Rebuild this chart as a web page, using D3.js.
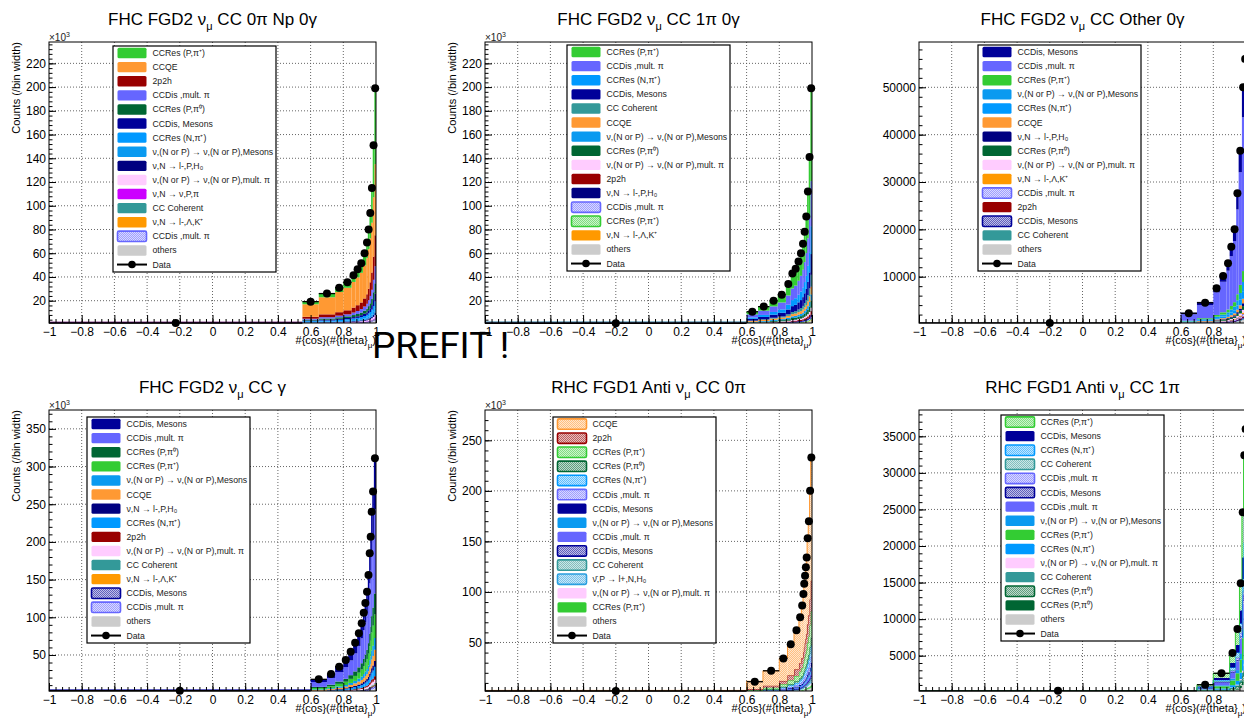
<!DOCTYPE html>
<html lang="en">
<head>
  <meta charset="UTF-8" />
  <title>Prefit cos(theta) distributions</title>
  <script src="https://d3js.org/d3.v7.min.js"></script>
  <style>
    body { margin: 0; background: #fff; }
    svg { display: block; font-family: "Liberation Sans", Arial, sans-serif; }
  </style>
</head>
<body>
  <svg width="1244" height="718"></svg>

  <script>
    // ---- labels and colours of the MC components ----
    const compLabel = {
      resPpip: "CCRes (P,π⁺)", qe: "CCQE", npnh: "2p2h", disMult: "CCDis ,mult. π",
      resPpi0: "CCRes (P,π⁰)", disMes: "CCDis, Mesons", resNpip: "CCRes (N,π⁺)",
      ncMes: "ν,(N or P) → ν,(N or P),Mesons", lPH0: "ν,N → l-,P,H₀",
      ncMult: "ν,(N or P) → ν,(N or P),mult. π", nuPpi: "ν,N → ν,P,π",
      coh: "CC Coherent", kaon: "ν,N → l-,Λ,K⁺", others: "others",
      nubar: "ν\u0304,P → l+,N,H₀"
    };
    const compColor = {
      resPpip: "#33cc33", qe: "#ff9933", npnh: "#990000", disMult: "#6666ff",
      resPpi0: "#006633", disMes: "#000099", resNpip: "#0099ff", ncMes: "#0a9af0",
      lPH0: "#000080", ncMult: "#ffccff", nuPpi: "#cc00ff", coh: "#339999",
      kaon: "#ff9900", others: "#cccccc", nubar: "#2a9fe0"
    };

    // ---- panel 1: FHC FGD2 CC 0pi Np 0gamma (x10^3) ----
    const p1Edges = [-1, 0.55, 0.65, 0.75, 0.8, 0.85, 0.875, 0.9, 0.92, 0.94, 0.95, 0.96, 0.97, 0.98, 0.99, 1];
    const p1Data = [1.2, 19.2, 26, 31, 35.5, 41.5, 46.5, 51.5, 60, 69, 80, 94, 115, 151, 199];
    const p1Keys = ["resPpip", "qe", "npnh", "disMult", "resPpi0", "disMes", "resNpip", "ncMes",
                    "lPH0", "ncMult", "nuPpi", "coh", "kaon", "disMult_h", "others"];
    const p1Stack = [
      [0.05, 2.6, 3.4, 4.0, 4.6, 5.6, 6.6, 7.8, 9.8, 12.2, 15.5, 20.5, 29, 44, 66],
      [0.1, 10.6, 14.4, 17.0, 19.0, 21.6, 23.5, 25.0, 27.8, 30.5, 33.5, 37.0, 42.0, 50.0, 60.0],
      [0.05, 1.6, 2.4, 2.9, 3.4, 4.2, 4.9, 5.6, 6.8, 8.0, 9.6, 11.5, 14.5, 19.5, 26.0],
      [0.05, 0.8, 1.1, 1.4, 1.7, 2.1, 2.5, 2.9, 3.5, 4.2, 5.0, 6.2, 7.8, 10.5, 14.5],
      [0.03, 0.7, 1.0, 1.2, 1.4, 1.7, 1.9, 2.2, 2.6, 3.0, 3.5, 4.2, 5.1, 6.6, 8.6],
      [0.03, 0.5, 0.7, 0.9, 1.0, 1.2, 1.4, 1.6, 1.9, 2.2, 2.6, 3.1, 3.8, 5.0, 6.6],
      [0.03, 0.7, 0.9, 1.1, 1.2, 1.4, 1.6, 1.8, 2.1, 2.4, 2.8, 3.3, 3.9, 4.9, 6.2],
      [0.02, 0.4, 0.5, 0.6, 0.7, 0.8, 0.9, 1.0, 1.1, 1.3, 1.5, 1.7, 2.0, 2.5, 3.1],
      [0.02, 0.3, 0.4, 0.4, 0.5, 0.6, 0.6, 0.7, 0.8, 0.9, 1.0, 1.2, 1.4, 1.8, 2.2],
      [0.02, 0.3, 0.3, 0.4, 0.4, 0.5, 0.5, 0.6, 0.7, 0.8, 0.9, 1.0, 1.2, 1.5, 1.9],
      [1.8, 0.2, 0.2, 0.2, 0.3, 0.3, 0.3, 0.3, 0.4, 0.4, 0.5, 0.5, 0.6, 0.8, 1.0],
      [0.01, 0.1, 0.1, 0.1, 0.1, 0.1, 0.2, 0.2, 0.2, 0.2, 0.3, 0.3, 0.4, 0.5, 0.6],
      [0.01, 0.1, 0.1, 0.1, 0.1, 0.1, 0.1, 0.1, 0.2, 0.2, 0.2, 0.2, 0.3, 0.3, 0.4],
      [0.01, 0.1, 0.1, 0.2, 0.2, 0.2, 0.2, 0.3, 0.3, 0.3, 0.4, 0.4, 0.5, 0.6, 0.8],
      [0.4, 0.6, 0.7, 0.8, 0.9, 1.0, 1.1, 1.2, 1.3, 1.5, 1.7, 1.9, 2.2, 2.6, 3.2]
    ];

    // ---- panel 2: FHC FGD2 CC 1pi 0gamma (x10^3) ----
    const p2Edges = [-1, 0.6, 0.67, 0.74, 0.79, 0.84, 0.87, 0.89, 0.91, 0.925, 0.94, 0.95, 0.96, 0.97, 0.98, 0.99, 1];
    const p2Data = [1.0, 10.7, 15, 20, 25, 34, 43, 47, 53, 60, 68, 78, 91, 112, 141, 199];
    const p2Keys = ["resPpip", "disMult", "resNpip", "disMes", "coh", "qe", "ncMes", "resPpi0",
                    "ncMult", "npnh", "lPH0", "disMult_h", "resPpip_h", "kaon", "others"];
    const p2Stack = [
      [0.05, 2.4, 3.4, 4.6, 5.9, 9.6, 12.7, 14.3, 16, 19, 22, 25.5, 31, 39, 50, 78],
      [0.05, 2.6, 3.6, 4.7, 5.8, 7.8, 9.8, 10.6, 11.8, 13.2, 14.8, 16.8, 19.2, 23.2, 28.5, 38.0],
      [0.03, 1.2, 1.7, 2.3, 2.9, 4.0, 5.1, 5.6, 6.4, 7.3, 8.3, 9.5, 11.0, 13.6, 17.0, 23.5],
      [0.03, 1.5, 2.0, 2.6, 3.1, 4.1, 5.0, 5.4, 6.0, 6.7, 7.4, 8.3, 9.4, 11.2, 13.5, 17.5],
      [0.01, 0.3, 0.5, 0.7, 0.9, 1.3, 1.7, 1.9, 2.2, 2.6, 3.0, 3.5, 4.1, 5.2, 6.6, 10.0],
      [0.02, 0.7, 0.9, 1.1, 1.3, 1.6, 1.9, 2.0, 2.2, 2.4, 2.7, 3.0, 3.4, 4.0, 4.8, 6.5],
      [0.01, 0.5, 0.6, 0.8, 0.9, 1.2, 1.4, 1.5, 1.7, 1.8, 2.0, 2.3, 2.6, 3.1, 3.8, 5.0],
      [0.01, 0.4, 0.6, 0.8, 1.0, 1.3, 1.6, 1.7, 1.9, 2.1, 2.4, 2.7, 3.1, 3.7, 4.6, 6.2],
      [0.01, 0.2, 0.3, 0.4, 0.5, 0.6, 0.7, 0.8, 0.9, 1.0, 1.1, 1.3, 1.5, 1.8, 2.2, 2.9],
      [0.01, 0.2, 0.3, 0.4, 0.5, 0.6, 0.7, 0.8, 0.9, 1.0, 1.1, 1.3, 1.5, 1.8, 2.2, 3.0],
      [0.01, 0.2, 0.2, 0.3, 0.3, 0.4, 0.5, 0.5, 0.6, 0.6, 0.7, 0.8, 0.9, 1.1, 1.3, 1.8],
      [0.01, 0.1, 0.2, 0.2, 0.3, 0.3, 0.4, 0.4, 0.5, 0.5, 0.6, 0.7, 0.8, 0.9, 1.1, 1.5],
      [0.01, 0.1, 0.1, 0.2, 0.2, 0.3, 0.3, 0.3, 0.4, 0.4, 0.5, 0.5, 0.6, 0.7, 0.9, 1.2],
      [0, 0.1, 0.1, 0.1, 0.1, 0.1, 0.2, 0.2, 0.2, 0.2, 0.2, 0.3, 0.3, 0.3, 0.4, 0.5],
      [1.9, 0.4, 0.5, 0.6, 0.7, 0.8, 1.0, 1.0, 1.1, 1.2, 1.3, 1.5, 1.7, 2.0, 2.4, 3.2]
    ];

    // ---- panel 3: FHC FGD2 CC Other 0gamma ----
    const p3Edges = [-1, 0.6, 0.7, 0.8, 0.84, 0.88, 0.9, 0.92, 0.94, 0.955, 0.975, 0.99, 1];
    const p3Data = [230, 2270, 4500, 7550, 10150, 12830, 16340, 20000, 27600, 36600, 50000, 56000];
    const p3Keys = ["disMes", "disMult", "resPpip", "ncMes", "resNpip", "qe", "lPH0", "resPpi0",
                    "ncMult", "kaon", "disMult_h", "npnh", "disMes_h", "coh", "others"];
    const p3Stack = [
      [20, 350, 700, 1150, 1500, 1850, 2300, 2750, 3700, 4800, 6400, 7100],
      [120, 1350, 2750, 4750, 6450, 8200, 10500, 12900, 17900, 23800, 32500, 36500],
      [15, 120, 220, 360, 480, 600, 760, 930, 1280, 1700, 2300, 2550],
      [10, 110, 200, 320, 420, 520, 650, 790, 1080, 1420, 1950, 2150],
      [10, 90, 170, 270, 350, 430, 540, 650, 900, 1180, 1600, 1800],
      [8, 60, 110, 170, 220, 270, 330, 400, 540, 700, 950, 1050],
      [5, 40, 70, 110, 140, 170, 210, 250, 340, 440, 600, 660],
      [5, 50, 90, 140, 180, 220, 270, 330, 450, 590, 800, 880],
      [5, 40, 70, 100, 130, 160, 200, 240, 320, 420, 570, 630],
      [3, 20, 40, 60, 80, 100, 120, 150, 200, 260, 350, 380],
      [5, 30, 50, 80, 100, 130, 160, 190, 260, 340, 460, 510],
      [3, 20, 30, 50, 60, 80, 100, 120, 160, 210, 280, 310],
      [3, 20, 30, 50, 60, 80, 100, 120, 160, 210, 280, 310],
      [2, 10, 20, 30, 40, 50, 60, 70, 100, 130, 170, 190],
      [30, 90, 130, 180, 220, 260, 320, 380, 510, 660, 880, 980]
    ];

    // ---- panel 4: FHC FGD2 CC gamma (x10^3) ----
    const p4Edges = [-1, 0.6, 0.7, 0.75, 0.8, 0.83, 0.86, 0.885, 0.905, 0.92, 0.93, 0.94, 0.95, 0.958, 0.965, 0.97, 0.977, 0.987, 1];
    const p4Data = [2.5, 17.7, 24.8, 34.5, 43.4, 54.4, 66.3, 78.8, 92, 106, 119, 134, 156, 185, 207, 240, 267, 311];
    const p4Keys = ["disMes", "disMult", "resPpi0", "resPpip", "ncMes", "qe", "lPH0", "resNpip",
                    "npnh", "ncMult", "coh", "kaon", "disMes_h", "disMult_h", "others"];
    const p4Stack = [
      [0.8, 3.9, 5.5, 7.6, 9.5, 12.0, 14.6, 17.3, 20.2, 23.3, 26.2, 29.5, 34.3, 40.7, 45.5, 52.8, 58.7, 68.4],
      [1.4, 6.4, 8.9, 12.4, 15.6, 19.6, 23.9, 28.4, 33.1, 38.2, 42.8, 48.2, 56.2, 66.6, 74.5, 86.4, 96.1, 112.0],
      [0.3, 1.6, 2.2, 3.1, 3.9, 4.9, 6.0, 7.1, 8.3, 9.5, 10.7, 12.1, 14.0, 16.7, 18.6, 21.6, 24.0, 28.0],
      [0.3, 1.8, 2.5, 3.5, 4.3, 5.4, 6.6, 7.9, 9.2, 10.6, 11.9, 13.4, 15.6, 18.5, 20.7, 24.0, 26.7, 31.1],
      [0.1, 0.9, 1.2, 1.7, 2.2, 2.7, 3.3, 3.9, 4.6, 5.3, 6.0, 6.7, 7.8, 9.3, 10.4, 12.0, 13.4, 15.6],
      [0.1, 1.0, 1.3, 1.8, 2.2, 2.8, 3.3, 3.9, 4.5, 5.2, 5.8, 6.5, 7.5, 8.9, 9.9, 11.5, 12.8, 14.9],
      [0.05, 0.4, 0.6, 0.9, 1.1, 1.4, 1.7, 2.0, 2.3, 2.7, 3.0, 3.4, 3.9, 4.6, 5.2, 6.0, 6.7, 7.8],
      [0.1, 0.7, 1.0, 1.4, 1.7, 2.2, 2.7, 3.2, 3.7, 4.2, 4.8, 5.4, 6.2, 7.4, 8.3, 9.6, 10.7, 12.4],
      [0.05, 0.3, 0.4, 0.5, 0.7, 0.8, 1.0, 1.2, 1.4, 1.6, 1.8, 2.0, 2.3, 2.8, 3.1, 3.6, 4.0, 4.7],
      [0.05, 0.3, 0.4, 0.5, 0.6, 0.8, 1.0, 1.2, 1.4, 1.6, 1.8, 2.0, 2.3, 2.8, 3.1, 3.6, 4.0, 4.6],
      [0.02, 0.1, 0.1, 0.2, 0.2, 0.3, 0.3, 0.4, 0.5, 0.5, 0.6, 0.7, 0.8, 0.9, 1.0, 1.2, 1.3, 1.6],
      [0.02, 0.1, 0.1, 0.2, 0.2, 0.3, 0.3, 0.4, 0.4, 0.5, 0.6, 0.6, 0.7, 0.9, 1.0, 1.2, 1.3, 1.5],
      [0.05, 0.1, 0.2, 0.3, 0.3, 0.4, 0.5, 0.6, 0.7, 0.8, 1.0, 1.1, 1.2, 1.5, 1.7, 1.9, 2.1, 2.5],
      [0.05, 0.1, 0.2, 0.2, 0.3, 0.4, 0.5, 0.6, 0.6, 0.7, 0.8, 0.9, 1.1, 1.3, 1.4, 1.7, 1.9, 2.2],
      [1.0, 0.3, 0.4, 0.5, 0.7, 0.8, 1.0, 1.2, 1.4, 1.6, 1.8, 2.0, 2.3, 2.8, 3.1, 3.6, 4.0, 4.7]
    ];

    // ---- panel 5: RHC FGD1 anti-numu CC 0pi (x10^3) ----
    const p5Edges = [-1, 0.6, 0.7, 0.8, 0.85, 0.89, 0.92, 0.935, 0.945, 0.95, 0.955, 0.96, 0.965, 0.97, 0.977, 0.985, 0.992, 1];
    const p5Data = [2, 11.2, 22, 34.2, 48.3, 62, 75, 86.7, 98, 108, 116, 124.5, 134, 153, 170, 200, 233];
    const p5Keys = ["qe_h", "npnh_h", "resPpip_h", "resPpi0_h", "resNpip_h", "disMult_h", "disMes", "ncMes",
                    "disMult", "disMes_h", "coh_h", "nubar_h", "ncMult", "resPpip", "others"];
    const p5Stack = [
      [0.8, 7.6, 14.8, 22.5, 31.0, 38.8, 45.6, 51.8, 57.6, 62.8, 66.8, 70.8, 75.0, 84.0, 91.8, 104.0, 122.0],
      [0.2, 1.0, 2.0, 3.3, 4.9, 6.6, 8.3, 9.8, 11.3, 12.6, 13.7, 14.9, 16.2, 18.8, 21.2, 25.5, 30.5],
      [0.2, 0.7, 1.5, 2.5, 3.8, 5.2, 6.6, 8.0, 9.3, 10.5, 11.5, 12.5, 13.6, 15.9, 18.0, 21.6, 26.0],
      [0.05, 0.3, 0.5, 0.8, 1.2, 1.6, 2.0, 2.4, 2.8, 3.1, 3.4, 3.7, 4.0, 4.7, 5.3, 6.4, 7.7],
      [0.05, 0.4, 0.7, 1.1, 1.7, 2.3, 2.9, 3.4, 4.0, 4.5, 4.9, 5.3, 5.8, 6.8, 7.7, 9.2, 11.2],
      [0.05, 0.2, 0.3, 0.6, 0.8, 1.1, 1.4, 1.7, 2.0, 2.2, 2.4, 2.6, 2.9, 3.4, 3.9, 4.7, 5.8],
      [0.05, 0.2, 0.3, 0.6, 0.8, 1.0, 1.3, 1.5, 1.7, 1.9, 2.1, 2.3, 2.5, 2.9, 3.3, 4.0, 4.8],
      [0.02, 0.1, 0.2, 0.4, 0.5, 0.7, 0.9, 1.0, 1.2, 1.3, 1.5, 1.6, 1.8, 2.1, 2.4, 2.9, 3.5],
      [0.05, 0.2, 0.3, 0.5, 0.7, 0.9, 1.1, 1.3, 1.5, 1.7, 1.9, 2.0, 2.3, 2.7, 3.1, 3.8, 4.6],
      [0.02, 0.1, 0.1, 0.2, 0.3, 0.4, 0.5, 0.6, 0.7, 0.8, 0.9, 1.0, 1.1, 1.3, 1.5, 1.9, 2.3],
      [0.02, 0.1, 0.1, 0.2, 0.3, 0.4, 0.5, 0.6, 0.7, 0.8, 0.9, 1.0, 1.1, 1.3, 1.5, 1.9, 2.3],
      [0.02, 0.1, 0.2, 0.3, 0.5, 0.6, 0.8, 0.9, 1.1, 1.2, 1.3, 1.5, 1.6, 1.9, 2.2, 2.7, 3.4],
      [0.02, 0.1, 0.1, 0.2, 0.2, 0.3, 0.4, 0.4, 0.5, 0.5, 0.6, 0.6, 0.7, 0.8, 0.9, 1.0, 1.2],
      [0.02, 0.1, 0.2, 0.3, 0.4, 0.6, 0.7, 0.8, 1.0, 1.1, 1.2, 1.3, 1.4, 1.6, 1.8, 2.1, 2.4],
      [1.0, 0.4, 0.7, 1.0, 1.3, 1.6, 1.9, 2.2, 2.4, 2.7, 2.9, 3.1, 3.3, 3.7, 4.1, 4.7, 5.4]
    ];

    // ---- panel 6: RHC FGD1 anti-numu CC 1pi ----
    const p6Edges = [-1, 0.7, 0.8, 0.9, 0.935, 0.96, 0.975, 0.985, 0.995, 1];
    const p6Data = [190, 1030, 2590, 5370, 8650, 14900, 24600, 32400, 36000];
    const p6Keys = ["resPpip_h", "disMes", "resNpip_h", "coh_h", "disMult_h", "disMes_h", "disMult", "ncMes",
                    "resPpip", "resNpip", "ncMult", "coh", "resPpi0_h", "resPpi0", "others"];
    const p6Stack = [
      [20, 220, 620, 1320, 2150, 3700, 6100, 8050, 8950],
      [15, 120, 300, 640, 1030, 1780, 2950, 3890, 4320],
      [8, 70, 180, 370, 600, 1040, 1720, 2270, 2520],
      [2, 20, 50, 110, 170, 300, 490, 650, 720],
      [5, 30, 80, 160, 260, 450, 740, 970, 1080],
      [3, 20, 50, 110, 170, 300, 490, 650, 720],
      [30, 150, 360, 750, 1210, 2090, 3440, 4540, 5040],
      [8, 50, 130, 270, 430, 750, 1230, 1620, 1800],
      [15, 110, 300, 640, 1040, 1790, 2950, 3890, 4320],
      [10, 60, 160, 320, 520, 890, 1480, 1940, 2160],
      [3, 10, 30, 50, 90, 150, 250, 320, 360],
      [3, 20, 50, 110, 170, 300, 490, 650, 720],
      [5, 30, 80, 160, 260, 450, 740, 970, 1080],
      [3, 20, 50, 110, 170, 300, 490, 650, 720],
      [60, 100, 150, 220, 350, 600, 980, 1300, 1440]
    ];

    const titles = [
      ["FHC FGD2 ν", "μ", " CC 0π Np 0γ"],
      ["FHC FGD2 ν", "μ", " CC 1π 0γ"],
      ["FHC FGD2 ν", "μ", " CC Other 0γ"],
      ["FHC FGD2 ν", "μ", " CC γ"],
      ["RHC FGD1 Anti ν", "μ", " CC 0π"],
      ["RHC FGD1 Anti ν", "μ", " CC 1π"]
    ];
    const yRanges = [[1.2, 238], [1.2, 238], [220, 59570], [2.2, 375], [2, 280], [170, 38600]];
    const ySteps = [[20, 4], [20, 4], [10000, 2000], [50, 10], [50, 10], [5000, 1000]];
    const yThousands = [true, true, false, true, true, false];

    const panels = [
      { edges: p1Edges, data: p1Data, keys: p1Keys, stack: p1Stack },
      { edges: p2Edges, data: p2Data, keys: p2Keys, stack: p2Stack },
      { edges: p3Edges, data: p3Data, keys: p3Keys, stack: p3Stack },
      { edges: p4Edges, data: p4Data, keys: p4Keys, stack: p4Stack },
      { edges: p5Edges, data: p5Data, keys: p5Keys, stack: p5Stack },
      { edges: p6Edges, data: p6Data, keys: p6Keys, stack: p6Stack }
    ];

    // layout
    const colX = [49, 485, 919], rowY = [42, 410];
    const W = 327, H = 281;
    const legendPos = [[113, 46], [567, 45], [978, 45], [87, 417], [553, 417], [1001, 415]];
    const legendW = 163, legendH = 226, rowH = 14.1;

    const svg = d3.select("svg");
    const defs = svg.append("defs");

    // checker-like hatch fill, one per colour
    Object.keys(compColor).forEach(k => {
      const pat = defs.append("pattern").attr("id", "hatch-" + k)
        .attr("width", 2).attr("height", 2).attr("patternUnits", "userSpaceOnUse");
      pat.append("rect").attr("width", 2).attr("height", 2).attr("fill", "#fff");
      pat.append("rect").attr("width", 2).attr("height", 2).attr("fill", compColor[k]).attr("opacity", 0.25);
      pat.append("rect").attr("width", 1).attr("height", 1).attr("fill", compColor[k]).attr("opacity", 0.5);
      pat.append("rect").attr("x", 1).attr("y", 1).attr("width", 1).attr("height", 1).attr("fill", compColor[k]).attr("opacity", 0.5);
    });

    const baseKey = k => k.replace("_h", "");
    const isHatched = k => k.endsWith("_h");
    const fillFor = k => isHatched(k) ? `url(#hatch-${baseKey(k)})` : compColor[k];

    const xMajor = d3.range(-10, 11, 2).map(v => v / 10);
    const xMinor = d3.range(-50, 51, 2).map(v => v / 50);

    panels.forEach((p, i) => {
      const fx = colX[i % 3], fy = rowY[Math.floor(i / 3)];
      const g = svg.append("g").attr("transform", `translate(${fx},${fy})`);
      const x = d3.scaleLinear().domain([-1, 1]).range([0, W]);
      const y = d3.scaleLinear().domain(yRanges[i]).range([H, 0]);
      const [maj, mnr] = ySteps[i];
      const yMajor = d3.range(maj, yRanges[i][1], maj);
      const yMinor = d3.range(0, yRanges[i][1], mnr).filter(v => v >= yRanges[i][0]);

      // grid
      const grid = g.append("g").attr("stroke", "#555").attr("stroke-width", 0.9)
        .attr("stroke-dasharray", "1,2");
      grid.selectAll(".gx").data(xMajor.filter(v => v > -1 && v < 1)).join("line")
        .attr("x1", d => x(d)).attr("x2", d => x(d)).attr("y1", 0).attr("y2", H);
      grid.selectAll(".gy").data(yMajor).join("line")
        .attr("x1", 0).attr("x2", W).attr("y1", d => y(d)).attr("y2", d => y(d));

      // stacked MC, bottom component is the last legend entry
      const clipId = "clip" + i;
      defs.append("clipPath").attr("id", clipId).append("rect").attr("width", W).attr("height", H);
      const sg = g.append("g").attr("clip-path", `url(#${clipId})`);
      let base = p.data.map(() => 0);
      for (let s = p.keys.length - 1; s >= 0; s--) {
        const key = p.keys[s];
        const rows = p.stack[s].map((v, b) => ({ b, y0: base[b], y1: base[b] + v }));
        sg.append("g").selectAll("rect").data(rows).join("rect")
          .attr("x", d => x(p.edges[d.b]))
          .attr("width", d => x(p.edges[d.b + 1]) - x(p.edges[d.b]))
          .attr("y", d => y(d.y1))
          .attr("height", d => Math.max(0, y(d.y0) - y(d.y1)))
          .attr("fill", fillFor(key));
        if (isHatched(key)) {
          let path = "";
          rows.forEach((d, b) => {
            path += (b === 0 ? "M" : "L") + x(p.edges[b]) + "," + y(d.y1) + "L" + x(p.edges[b + 1]) + "," + y(d.y1);
          });
          sg.append("path").attr("d", path).attr("fill", "none")
            .attr("stroke", compColor[baseKey(key)]).attr("stroke-width", 1);
        }
        base = rows.map(d => d.y1);
      }

      // data: markers with bin-width bars
      const dg = g.append("g");
      dg.selectAll("line").data(p.data).join("line")
        .attr("x1", (d, b) => x(p.edges[b])).attr("x2", (d, b) => x(p.edges[b + 1]))
        .attr("y1", d => y(d)).attr("y2", d => y(d))
        .attr("stroke", "#000").attr("stroke-width", 1.3);
      dg.selectAll("circle").data(p.data).join("circle")
        .attr("cx", (d, b) => x((p.edges[b] + p.edges[b + 1]) / 2))
        .attr("cy", d => y(d)).attr("r", 4).attr("fill", "#000");

      // axes, ticks pointing inward
      const styleAxis = a => {
        a.select(".domain").remove();
        a.attr("font-family", null).attr("font-size", 12);
        a.selectAll("line").attr("stroke", "#000");
        a.selectAll("text").attr("fill", "#000");
      };
      g.append("g").call(d3.axisLeft(y).tickValues(yMinor).tickSize(-3.5).tickFormat("")).call(styleAxis);
      g.append("g").call(d3.axisLeft(y).tickValues(yMajor).tickSize(-7).tickPadding(3)
        .tickFormat(d3.format("d"))).call(styleAxis);
      g.append("g").attr("transform", `translate(0,${H})`)
        .call(d3.axisBottom(x).tickValues(xMinor).tickSize(-4).tickFormat("")).call(styleAxis);
      g.append("g").attr("transform", `translate(0,${H})`)
        .call(d3.axisBottom(x).tickValues(xMajor).tickSize(-8).tickPadding(4.5)
          .tickFormat(d3.format("~g"))).call(styleAxis);

      g.append("rect").attr("width", W).attr("height", H)
        .attr("fill", "none").attr("stroke", "#000").attr("stroke-width", 1);

      // axis titles
      const xt = g.append("text").attr("x", W).attr("y", H + 21)
        .attr("text-anchor", "end").attr("font-size", 11);
      xt.append("tspan").text("#{cos}(#{theta}");
      xt.append("tspan").attr("font-size", 8).attr("dy", 4).text("μ");
      xt.append("tspan").attr("dy", -4).text(")");

      if (yThousands[i]) {
        g.append("text").attr("transform", `translate(-29.5,0) rotate(-90)`)
          .attr("text-anchor", "end").attr("font-size", 11).text("Counts (/bin width)");
        const tt = g.append("text").attr("x", 0).attr("y", -1.5).attr("font-size", 10).attr("fill", "#222");
        tt.append("tspan").text("×10");
        tt.append("tspan").attr("font-size", 7).attr("dy", -4).text("3");
      }

      // title
      const t = titles[i];
      const tl = g.append("text").attr("x", W / 2).attr("y", -17)
        .attr("text-anchor", "middle").attr("font-size", 17);
      tl.append("tspan").text(t[0]);
      tl.append("tspan").attr("font-size", 11).attr("dy", 5).text(t[1]);
      tl.append("tspan").attr("dy", -5).text(t[2]);

      // legend
      const [lx, ly] = legendPos[i];
      const lg = svg.append("g").attr("transform", `translate(${lx},${ly})`);
      lg.append("rect").attr("width", legendW).attr("height", legendH)
        .attr("fill", "#fff").attr("stroke", "#000").attr("stroke-width", 1.2);
      p.keys.concat(["data"]).forEach((k, j) => {
        const cy = rowH / 2 + j * rowH;
        if (k === "data") {
          lg.append("line").attr("x1", 4).attr("x2", 34).attr("y1", cy).attr("y2", cy)
            .attr("stroke", "#000").attr("stroke-width", 2);
          lg.append("circle").attr("cx", 19).attr("cy", cy).attr("r", 3.8).attr("fill", "#000");
        } else {
          lg.append("rect").attr("x", 4.5).attr("y", cy - 5.2).attr("width", 29).attr("height", 10.4)
            .attr("rx", 1.5)
            .attr("fill", fillFor(k))
            .attr("stroke", isHatched(k) ? compColor[baseKey(k)] : "none")
            .attr("stroke-width", 1.6);
        }
        lg.append("text").attr("x", 39.5).attr("y", cy).attr("dy", "0.35em")
          .attr("font-size", 8.7).attr("fill", "#222")
          .text(k === "data" ? "Data" : compLabel[baseKey(k)]);
      });
    });

    svg.append("text").attr("x", 372).attr("y", 358)
      .attr("font-family", "Roboto, sans-serif").attr("font-size", 37).attr("fill", "#000")
      .text("PREFIT !");
  </script>
</body>
</html>
